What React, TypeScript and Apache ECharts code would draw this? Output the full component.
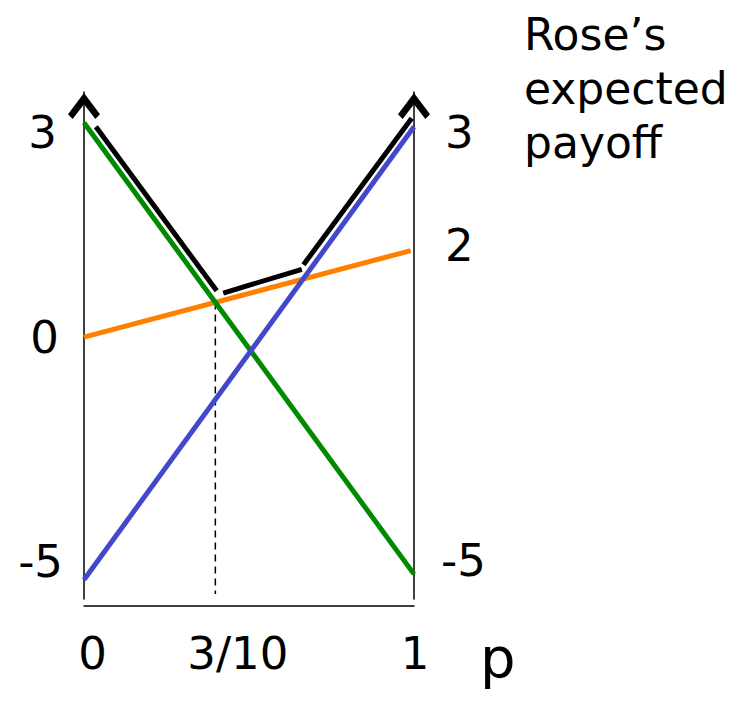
import React, { useEffect, useRef } from "react";
import * as echarts from "echarts";

// p positions of the two ends of a full-width line
const pEnds = [0, 1];
// Rose's expected payoff lines (values as drawn in the sketch)
const greenVals = [3.03, -4.95];
const blueVals = [-5.05, 2.96];
const orangeP = [0, 0.99];
const orangeVals = [-0.76, 0.77];
// upper envelope (black), drawn as three offset segments
const env1P = [0.036, 0.402];
const env1V = [2.96, 0.06];
const env2P = [0.422, 0.66];
const env2V = [0.02, 0.44];
const env3P = [0.665, 0.993];
const env3V = [0.52, 3.11];
// dashed drop line at the crossing p = 3/10
const tieP = 0.398;
const dashV = [-0.145, -5.3];
// tick labels
const xTickValues = [0, tieP, 1];
const xTickLabels = ["0", "3/10", "1"];
const leftTickValues = [3, orangeVals[0], -5];
const leftTickLabels = ["3", "0", "-5"];
const rightTickValues = [3, orangeVals[1], -5];
const rightTickLabels = ["3", "2", "-5"];
const titleText = "Rose’s\nexpected\npayoff";
const xName = "p";

const FONT = "DejaVu Sans";

function pairs(ps: number[], vs: number[]) {
  return ps.map((p, i) => [p, vs[i]]);
}

function lookup(values: number[], v: number) {
  let best = 0;
  let d = Infinity;
  values.forEach((t, i) => {
    const dd = Math.abs(t - v);
    if (dd < d) {
      d = dd;
      best = i;
    }
  });
  return best;
}

const chevron = "path://M12,0 L24,16 L20.5,19.5 L12,8.5 L3.5,19.5 L0,16 Z";

export default function App() {
  const ref = useRef<HTMLDivElement>(null);
  useEffect(() => {
    document.body.style.margin = "0";
    if (!ref.current) return;
    const chart = echarts.init(ref.current, undefined, { renderer: "svg" });
    const lineStyleAxis = { color: "#000", width: 1.5 };
    const arrowLine = {
      show: true,
      onZero: false,
      lineStyle: lineStyleAxis,
      symbol: ["none", chevron],
      symbolSize: [32, 28],
      symbolOffset: [0, -14],
    };
    const option: any = {
      animation: false,
      backgroundColor: "#fff",
      textStyle: { fontFamily: FONT },
      title: {
        text: titleText,
        left: 519,
        top: 2,
        textStyle: {
          fontFamily: FONT,
          fontSize: 44,
          lineHeight: 54,
          fontWeight: "normal",
          color: "#000",
        },
      },
      grid: { left: 84, right: 329, top: 92, bottom: 108 },
      xAxis: {
        type: "value",
        min: 0,
        max: 1,
        offset: 7,
        name: `{p|${xName}}`,
        nameLocation: "end",
        nameGap: 66,
        nameTextStyle: {
          fontFamily: FONT,
          fontSize: 56,
          color: "#000",
          rich: {
            p: { fontFamily: FONT, fontSize: 56, color: "#000", padding: [102, 0, 0, 0] },
          },
        },
        axisLine: { show: true, onZero: false, lineStyle: lineStyleAxis },
        axisTick: { show: false },
        splitLine: { show: false },
        axisLabel: {
          customValues: xTickValues,
          margin: 25,
          fontFamily: FONT,
          fontSize: 45,
          color: "#000",
          formatter: (v: number) => {
            const i = lookup(xTickValues, v);
            return `{x${i}|${xTickLabels[i]}}`;
          },
          rich: {
            x0: { fontFamily: FONT, fontSize: 45, color: "#000", padding: [0, 0, 0, 17] },
            x1: { fontFamily: FONT, fontSize: 45, color: "#000", padding: [0, 0, 0, 45] },
            x2: { fontFamily: FONT, fontSize: 45, color: "#000", padding: [0, 0, 0, 2] },
          },
        },
      },
      yAxis: [
        {
          type: "value",
          min: -5.39,
          max: 3.575,
          position: "left",
          axisLine: arrowLine,
          axisTick: { show: false },
          splitLine: { show: false },
          axisLabel: {
            customValues: leftTickValues,
            margin: 21,
            fontFamily: FONT,
            fontSize: 45,
            color: "#000",
            formatter: (v: number) => {
              const i = lookup(leftTickValues, v);
              return `{l${i}|${leftTickLabels[i]}}`;
            },
            rich: {
              l0: { fontFamily: FONT, fontSize: 45, color: "#000", padding: [15, 6, 0, 0] },
              l1: { fontFamily: FONT, fontSize: 45, color: "#000", padding: [0, 4, 0, 0] },
              l2: { fontFamily: FONT, fontSize: 45, color: "#000", padding: [0, 0, 30, 0] },
            },
          },
        },
        {
          type: "value",
          min: -5.39,
          max: 3.575,
          position: "right",
          axisLine: arrowLine,
          axisTick: { show: false },
          splitLine: { show: false },
          axisLabel: {
            customValues: rightTickValues,
            margin: 27,
            fontFamily: FONT,
            fontSize: 45,
            color: "#000",
            formatter: (v: number) => {
              const i = lookup(rightTickValues, v);
              return `{r${i}|${rightTickLabels[i]}}`;
            },
            rich: {
              r0: { fontFamily: FONT, fontSize: 45, color: "#000", padding: [15, 0, 0, 4] },
              r1: { fontFamily: FONT, fontSize: 45, color: "#000", padding: [0, 0, 11, 4] },
              r2: { fontFamily: FONT, fontSize: 45, color: "#000", padding: [0, 0, 32, 0] },
            },
          },
        },
      ],
      series: [
        {
          name: "drop",
          type: "line",
          data: pairs([tieP, tieP], dashV),
          symbol: "none",
          lineStyle: { color: "#000", width: 1.5, type: [7, 5] },
          z: 1,
        },
        {
          name: "orange",
          type: "line",
          data: pairs(orangeP, orangeVals),
          symbol: "none",
          lineStyle: { color: "#ff8000", width: 5 },
          z: 2,
        },
        {
          name: "green",
          type: "line",
          data: pairs(pEnds, greenVals),
          symbol: "none",
          lineStyle: { color: "#008a00", width: 5 },
          z: 3,
        },
        {
          name: "blue",
          type: "line",
          data: pairs(pEnds, blueVals),
          symbol: "none",
          lineStyle: { color: "#4248cc", width: 5 },
          z: 4,
        },
        {
          name: "envelope1",
          type: "line",
          data: pairs(env1P, env1V),
          symbol: "none",
          lineStyle: { color: "#000", width: 5 },
          z: 5,
        },
        {
          name: "envelope2",
          type: "line",
          data: pairs(env2P, env2V),
          symbol: "none",
          lineStyle: { color: "#000", width: 5 },
          z: 5,
        },
        {
          name: "envelope3",
          type: "line",
          data: pairs(env3P, env3V),
          symbol: "none",
          lineStyle: { color: "#000", width: 5 },
          z: 5,
        },
      ],
    };
    chart.setOption(option);
    return () => chart.dispose();
  }, []);
  return <div ref={ref} style={{ width: 743, height: 707 }} />;
}
